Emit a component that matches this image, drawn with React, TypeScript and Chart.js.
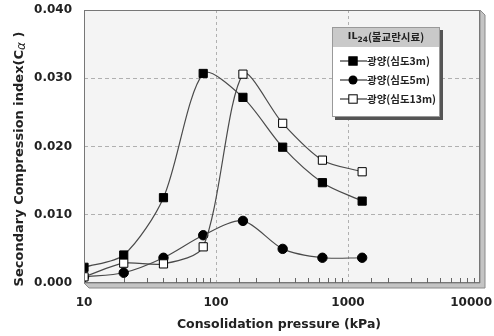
import React, { useEffect, useRef } from "react";
import { Chart, registerables } from "chart.js";

Chart.register(...registerables);

// Consolidation pressure steps (kPa)
const pressures = [10, 20, 40, 80, 160, 320, 640, 1280];
// Secondary compression index Cα per depth
const ca3m = [0.0023, 0.0041, 0.0125, 0.0307, 0.0272, 0.0199, 0.0147, 0.012];
const ca5m = [0.0009, 0.0015, 0.0037, 0.007, 0.0091, 0.005, 0.0037, 0.0037];
const ca13m = [0.0009, 0.0029, 0.0028, 0.0053, 0.0306, 0.0234, 0.018, 0.0163];

// labelled decades on the pressure axis
const xTickLabels = [10, 100, 1000, 10000];

const seriesNames = ["광양(심도3m)", "광양(심도5m)", "광양(심도13m)"];
const legendTitle = "IL";
const legendTitleSub = "24";
const legendTitleRest = "(불교란시료)";
const xTitle = "Consolidation pressure (kPa)";
const yTitleMain = "Secondary Compression index(C";
const yTitleGreek = "α";
const yTitleEnd = " )";

const FONT = "'DejaVu Sans', sans-serif";
const KFONT = "'Noto Sans CJK KR', 'DejaVu Sans', sans-serif";
const LINE = "#4a4a4a";

function isDecade(v: number) {
  const l = Math.log10(v);
  return Math.abs(l - Math.round(l)) < 1e-9;
}

function drawMarker(ctx: CanvasRenderingContext2D, kind: number, x: number, y: number) {
  ctx.save();
  ctx.lineWidth = 1;
  ctx.strokeStyle = "#000";
  if (kind === 1) {
    ctx.fillStyle = "#000";
    ctx.beginPath();
    ctx.arc(x, y, 4.5, 0, Math.PI * 2);
    ctx.fill();
  } else {
    const s = 4.2;
    ctx.fillStyle = kind === 0 ? "#000" : "#fff";
    ctx.fillRect(x - s, y - s, 2 * s, 2 * s);
    ctx.strokeRect(x - s, y - s, 2 * s, 2 * s);
  }
  ctx.restore();
}

const framePlugin = {
  id: "frame",
  beforeDraw(chart: any) {
    const { ctx, chartArea: a } = chart;
    ctx.save();
    ctx.fillStyle = "#f4f4f4";
    ctx.fillRect(a.left, a.top, a.right - a.left, a.bottom - a.top);
    // bevelled shadow along the right and bottom edges
    const d = 5;
    ctx.fillStyle = "#c4c4c4";
    ctx.strokeStyle = "#8a8a8a";
    ctx.lineWidth = 1;
    ctx.beginPath();
    ctx.moveTo(a.left, a.bottom);
    ctx.lineTo(a.left + d, a.bottom + d);
    ctx.lineTo(a.right + d, a.bottom + d);
    ctx.lineTo(a.right + d, a.top + d);
    ctx.lineTo(a.right, a.top);
    ctx.lineTo(a.right, a.bottom);
    ctx.closePath();
    ctx.fill();
    ctx.stroke();
    ctx.restore();
  },
  afterDatasetsDraw(chart: any) {
    const { ctx, chartArea: a, scales } = chart;
    ctx.save();
    ctx.strokeStyle = "#777";
    ctx.lineWidth = 1;
    ctx.strokeRect(a.left + 0.5, a.top + 0.5, a.right - a.left - 1, a.bottom - a.top - 1);
    // minor ticks on the pressure axis
    ctx.strokeStyle = "#666";
    ctx.beginPath();
    for (const t of scales.x.ticks) {
      if (isDecade(t.value)) continue;
      const px = Math.round(scales.x.getPixelForValue(t.value)) + 0.5;
      ctx.moveTo(px, a.bottom);
      ctx.lineTo(px, a.bottom - 5);
    }
    ctx.stroke();
    ctx.restore();
  },
  afterDraw(chart: any) {
    const { ctx, chartArea: a, scales, width } = chart;
    ctx.save();
    ctx.fillStyle = "#222";
    ctx.font = `bold 12px ${FONT}`;
    ctx.textAlign = "center";
    ctx.textBaseline = "middle";

    // decade labels, kept inside the canvas at the right end
    for (const v of xTickLabels) {
      const s = String(v);
      const w = ctx.measureText(s).width;
      const px = Math.min(scales.x.getPixelForValue(v), width - w / 2 - 2);
      ctx.fillText(s, px, a.bottom + 20);
    }

    // axis titles
    ctx.font = `bold 12.5px ${FONT}`;
    ctx.fillText(xTitle, 279, 325);

    ctx.translate(20, 159);
    ctx.rotate(-Math.PI / 2);
    ctx.textAlign = "left";
    ctx.font = `bold 13px ${FONT}`;
    const wMain = ctx.measureText(yTitleMain).width;
    ctx.font = `italic 12px ${FONT}`;
    const wG = ctx.measureText(yTitleGreek).width;
    ctx.font = `bold 13px ${FONT}`;
    const wEnd = ctx.measureText(yTitleEnd).width;
    let x0 = -(wMain + wG + wEnd) / 2;
    ctx.fillText(yTitleMain, x0, 0);
    x0 += wMain;
    ctx.font = `italic 12px ${FONT}`;
    ctx.fillText(yTitleGreek, x0, 2);
    x0 += wG;
    ctx.font = `bold 13px ${FONT}`;
    ctx.fillText(yTitleEnd, x0, 0);
    ctx.restore();

    // legend box
    ctx.save();
    const lx = 332, ly = 27, lw = 108, lh = 90, th = 20;
    ctx.fillStyle = "#555";
    ctx.fillRect(lx + 3, ly + 3, lw, lh);
    ctx.fillStyle = "#fff";
    ctx.fillRect(lx, ly, lw, lh);
    ctx.fillStyle = "#c9c9c9";
    ctx.fillRect(lx, ly, lw, th);
    ctx.strokeStyle = "#999";
    ctx.lineWidth = 1;
    ctx.strokeRect(lx + 0.5, ly + 0.5, lw - 1, lh - 1);

    ctx.fillStyle = "#222";
    ctx.textBaseline = "middle";
    ctx.textAlign = "left";
    ctx.font = `bold 9.5px ${FONT}`;
    const w1 = ctx.measureText(legendTitle).width;
    ctx.font = `bold 7.5px ${FONT}`;
    const w2 = ctx.measureText(legendTitleSub).width;
    ctx.font = `bold 10.5px ${KFONT}`;
    const w3 = ctx.measureText(legendTitleRest).width;
    let tx = lx + lw / 2 - (w1 + w2 + w3) / 2;
    const ty = ly + th / 2;
    ctx.font = `bold 9.5px ${FONT}`;
    ctx.fillText(legendTitle, tx, ty);
    tx += w1;
    ctx.font = `bold 7.5px ${FONT}`;
    ctx.fillText(legendTitleSub, tx, ty + 3);
    tx += w2;
    ctx.font = `bold 10.5px ${KFONT}`;
    ctx.fillText(legendTitleRest, tx, ty);

    const rows = [61, 80, 99];
    rows.forEach((ry, i) => {
      ctx.strokeStyle = "#333";
      ctx.lineWidth = 1.2;
      ctx.beginPath();
      ctx.moveTo(340, ry);
      ctx.lineTo(367, ry);
      ctx.stroke();
      drawMarker(ctx, i, 353, ry);
      ctx.fillStyle = "#222";
      ctx.font = `bold 10.5px ${KFONT}`;
      ctx.fillText(seriesNames[i], 367, ry);
    });
    ctx.restore();
  },
};

export default function App() {
  const ref = useRef<HTMLCanvasElement | null>(null);

  useEffect(() => {
    if (!ref.current) return;
    const mk = (data: number[]) => pressures.map((p, i) => ({ x: p, y: data[i] }));
    const common = {
      borderColor: LINE,
      borderWidth: 1.2,
      pointBorderColor: "#000",
      pointBorderWidth: 1,
      tension: 0.28,
    };
    const chart = new Chart(ref.current, {
      type: "line",
      data: {
        datasets: [
          {
            ...common,
            label: seriesNames[0],
            data: mk(ca3m),
            pointStyle: "rect",
            pointRadius: 5.8,
            pointBackgroundColor: "#000",
            order: 2,
          },
          {
            ...common,
            label: seriesNames[1],
            data: mk(ca5m),
            pointStyle: "circle",
            pointRadius: 4.7,
            pointBackgroundColor: "#000",
            order: 3,
          },
          {
            ...common,
            label: seriesNames[2],
            data: mk(ca13m),
            pointStyle: "rect",
            pointRadius: 5.8,
            pointBackgroundColor: "#fff",
            order: 1,
          },
        ],
      },
      options: {
        responsive: false,
        animation: false,
        layout: { padding: { left: 0, top: 10, right: 14, bottom: 0 } },
        plugins: { legend: { display: false }, tooltip: { enabled: false } },
        scales: {
          x: {
            type: "logarithmic",
            min: 10,
            max: 10000,
            afterFit: (s: any) => {
              s.height = 53;
              s.paddingLeft = 0;
              s.paddingRight = 0;
            },
            border: { display: false, dash: [3, 3] },
            grid: {
              drawTicks: false,
              lineWidth: 1,
              color: (c: any) => {
                const v = c.tick && c.tick.value;
                return v && isDecade(v) && v > 10 && v < 10000 ? "#b0b0b0" : "rgba(0,0,0,0)";
              },
            },
            ticks: {
              display: false,
              autoSkip: false,
              maxRotation: 0,
            },
          },
          y: {
            min: 0,
            max: 0.04,
            afterFit: (s: any) => {
              s.width = 84;
              s.paddingTop = 0;
              s.paddingBottom = 0;
            },
            border: { display: false, dash: [4, 3] },
            grid: {
              drawTicks: false,
              lineWidth: 1,
              color: (c: any) => {
                const v = c.tick && c.tick.value;
                return v > 0.001 && v < 0.039 ? "#b0b0b0" : "rgba(0,0,0,0)";
              },
            },
            ticks: {
              stepSize: 0.01,
              padding: 12,
              color: "#222",
              font: { family: FONT, size: 12, weight: "bold" },
              callback: (v: any) => Number(v).toFixed(3),
            },
          },
        },
      },
      plugins: [framePlugin],
    } as any);
    return () => chart.destroy();
  }, []);

  return (
    <div style={{ position: "fixed", left: 0, top: 0, width: 494, height: 336, background: "#fff" }}>
      <canvas ref={ref} width={494} height={336} />
    </div>
  );
}
